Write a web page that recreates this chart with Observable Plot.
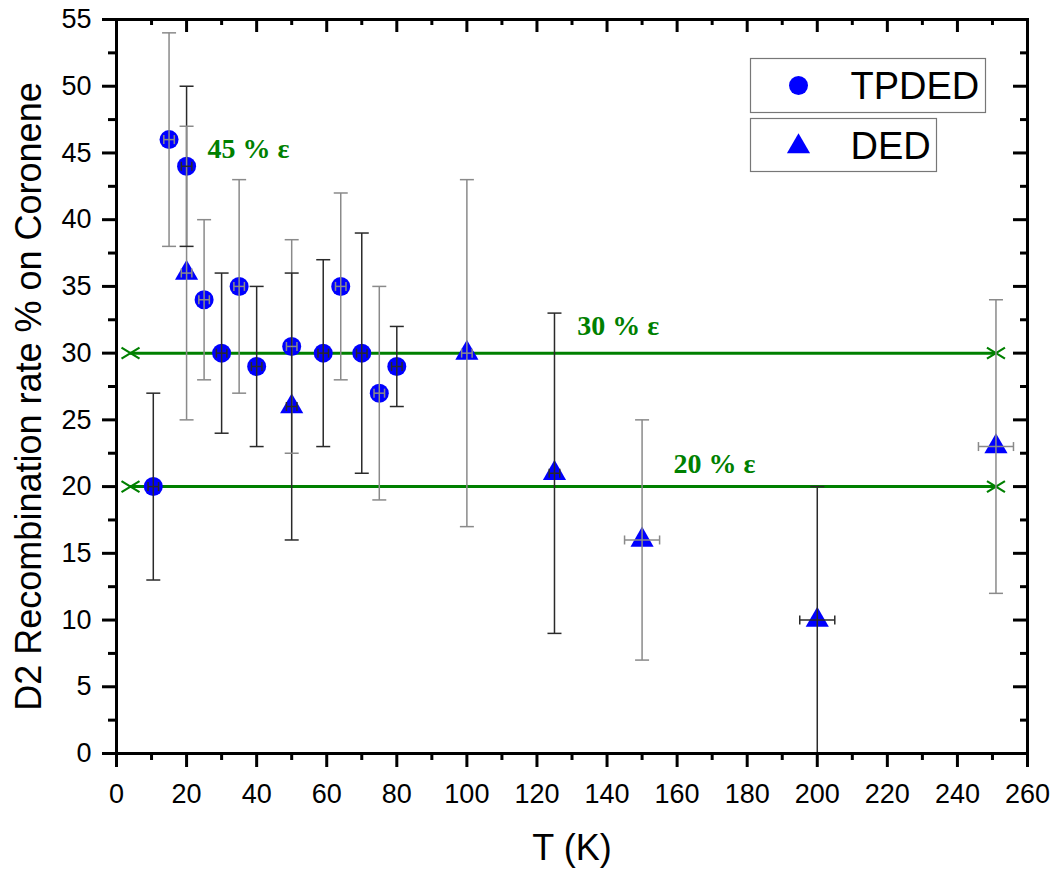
<!DOCTYPE html>
<html>
<head>
<meta charset="utf-8">
<script src="https://cdn.jsdelivr.net/npm/d3@7"></script>
<script src="https://cdn.jsdelivr.net/npm/@observablehq/plot@0.6"></script>
<style>
  body { margin: 0; background: #fff; }
  #chart svg { display: block; }
</style>
</head>
<body>
<div id="chart"></div>
<script>
// ---- Data ----
const tpdedT     = [10.5, 15, 20, 25, 30, 35, 40, 50, 59, 64, 70, 75, 80];
const tpdedRate  = [20, 46, 44, 34, 30, 35, 29, 30.5, 30, 35, 30, 27, 29];
const tpdedLow   = [13, 38, 38, 28, 24, 27, 23, 22.5, 23, 28, 21, 19, 26];
const tpdedHigh  = [27, 54, 50, 40, 36, 43, 35, 38.5, 37, 42, 39, 35, 32];
const tpdedTErr  = [1.5, 1.5, 1.5, 1.5, 1.5, 1.5, 1.5, 1.5, 1.5, 1.5, 1.5, 1.5, 1.5];

const dedT       = [20, 50, 100, 125, 150, 200, 251];
const dedRate    = [36, 26, 30, 21, 16, 10, 23];
const dedLow     = [25, 16, 17, 9, 7, 0, 12];
const dedHigh    = [47, 36, 43, 33, 25, 20, 34];
const dedTErr    = [1.5, 1.5, 1.5, 1.5, 5, 5, 5];

const refLevels  = [30, 20];
const refStart   = 4;
const refEnd     = 251;
const refLabels     = ["45 % ε", "30 % ε", "20 % ε"];
const refLabelT     = [26, 131.5, 159];
const refLabelRate  = [45.3, 32, 21.7];

const xTicksMajor = [0, 20, 40, 60, 80, 100, 120, 140, 160, 180, 200, 220, 240, 260];
const xTicksMinor = [10, 30, 50, 70, 90, 110, 130, 150, 170, 190, 210, 230, 250];
const yTicksMajor = [0, 5, 10, 15, 20, 25, 30, 35, 40, 45, 50, 55];
const yTicksMinor = [2.5, 7.5, 12.5, 17.5, 22.5, 27.5, 32.5, 37.5, 42.5, 47.5, 52.5];

const seriesNames = ["TPDED", "DED"];
const xLabel = "T (K)";
const yLabel = "D2 Recombination rate % on Coronene";

// ---- Build tables ----
const tp = tpdedT.map((t, i) => ({t, rate: tpdedRate[i], lo: tpdedLow[i], hi: tpdedHigh[i], terr: tpdedTErr[i]}));
const de = dedT.map((t, i) => ({t, rate: dedRate[i], lo: dedLow[i], hi: dedHigh[i], terr: dedTErr[i]}));
const all = [...tp, ...de];
const labels = refLabels.map((s, i) => ({s, t: refLabelT[i], rate: refLabelRate[i]}));

// ---- Layout ----
const W = 1058, H = 870;
const mL = 116, mR = 31, mT = 19, mB = 117;
const plotW = W - mL - mR, plotH = H - mT - mB;

const BLUE = "#0000ff", GREEN = "#008000";
const barColor = (d, i) => (i % 2 ? "#8a8a8a" : "#2a2a2a");

// custom symbols
const capH = {draw(c) { c.moveTo(-7, 0); c.lineTo(7, 0); }};
const capV = {draw(c) { c.moveTo(0, -4.5); c.lineTo(0, 4.5); }};
const cross = {draw(c) { c.moveTo(-9, -5.5); c.lineTo(9, 5.5); c.moveTo(-9, 5.5); c.lineTo(9, -5.5); }};

const refEnds = refLevels.flatMap(v => [{t: refStart, rate: v}, {t: refEnd, rate: v}]);

const chart = Plot.plot({
  width: W,
  height: H,
  marginLeft: mL,
  marginRight: mR,
  marginTop: mT,
  marginBottom: mB,
  style: {fontFamily: "'Liberation Sans', Arial, sans-serif", background: "#fff", color: "black"},
  x: {domain: [0, 260]},
  y: {domain: [0, 55]},
  marks: [
    // reference lines
    Plot.ruleY(refLevels, {y: d => d, x1: () => refStart, x2: () => refEnd, stroke: GREEN, strokeWidth: 3}),
    Plot.dot(refEnds, {x: "t", y: "rate", symbol: cross, fill: "none", stroke: GREEN, strokeWidth: 2.2}),
    Plot.text(labels, {x: "t", y: "rate", text: "s", textAnchor: "start", lineAnchor: "middle",
      fill: GREEN, fontSize: 28, fontWeight: "bold", fontFamily: "'Liberation Serif', 'Times New Roman', serif"}),

    // markers
    Plot.dot(tp, {x: "t", y: "rate", r: 9.5, fill: BLUE, stroke: "none", symbol: "circle"}),
    Plot.dot(de, {x: "t", y: "rate", r: 8.6, fill: BLUE, stroke: "none", symbol: "triangle"}),

    // vertical error bars
    Plot.link(all, {x1: "t", x2: "t", y1: "lo", y2: "hi", stroke: barColor, strokeWidth: 1.5}),
    Plot.dot(all, {x: "t", y: "lo", symbol: capH, fill: "none", stroke: barColor, strokeWidth: 1.5}),
    Plot.dot(all, {x: "t", y: "hi", symbol: capH, fill: "none", stroke: barColor, strokeWidth: 1.5}),
    // horizontal error bars
    Plot.link(all, {x1: d => d.t - d.terr, x2: d => d.t + d.terr, y1: "rate", y2: "rate", stroke: barColor, strokeWidth: 1.5}),
    Plot.dot(all, {x: d => d.t - d.terr, y: "rate", symbol: capV, fill: "none", stroke: barColor, strokeWidth: 1.5}),
    Plot.dot(all, {x: d => d.t + d.terr, y: "rate", symbol: capV, fill: "none", stroke: barColor, strokeWidth: 1.5}),

    // frame
    Plot.frame({stroke: "black", strokeWidth: 3}),

    // bottom axis (outward)
    Plot.axisX(xTicksMajor, {anchor: "bottom", tickSize: 14, tickPadding: 16, strokeWidth: 3, fontSize: 27, label: null}),
    Plot.axisX(xTicksMinor, {anchor: "bottom", tickSize: 7, strokeWidth: 3, tickFormat: () => "", label: null}),
    // left axis (outward)
    Plot.axisY(yTicksMajor, {anchor: "left", tickSize: 14, tickPadding: 11, strokeWidth: 3, fontSize: 27, label: null}),
    Plot.axisY(yTicksMinor, {anchor: "left", tickSize: 8, strokeWidth: 3, tickFormat: () => "", label: null}),
    // top ticks (inward)
    Plot.tickX(xTicksMajor, {x: d => d, insetBottom: plotH - 13, stroke: "black", strokeWidth: 3}),
    Plot.tickX(xTicksMinor, {x: d => d, insetBottom: plotH - 6, stroke: "black", strokeWidth: 3}),
    // right ticks (inward)
    Plot.tickY(yTicksMajor, {y: d => d, insetLeft: plotW - 14, stroke: "black", strokeWidth: 3}),
    Plot.tickY(yTicksMinor, {y: d => d, insetLeft: plotW - 7, stroke: "black", strokeWidth: 3}),

    // axis titles
    Plot.text([xLabel], {frameAnchor: "bottom", dy: 95, textAnchor: "middle", lineAnchor: "middle", fontSize: 36, fill: "black"}),
    Plot.text([yLabel], {frameAnchor: "left", dx: -87, dy: 10, rotate: -90, textAnchor: "middle", lineAnchor: "middle", fontSize: 36, fill: "black"}),

    // legend boxes
    Plot.frame({stroke: "#777", strokeWidth: 1.2, insetLeft: 750 - mL, insetRight: W - mR - 985, insetTop: 58 - mT, insetBottom: H - mB - 112}),
    Plot.frame({stroke: "#777", strokeWidth: 1.2, insetLeft: 750 - mL, insetRight: W - mR - 936, insetTop: 118 - mT, insetBottom: H - mB - 171}),
    Plot.dot([seriesNames[0]], {frameAnchor: "top-left", dx: 798 - mL, dy: 85 - mT, r: 9.5, fill: BLUE, stroke: "none", symbol: "circle"}),
    Plot.dot([seriesNames[1]], {frameAnchor: "top-left", dx: 798 - mL, dy: 146 - mT, r: 8.6, fill: BLUE, stroke: "none", symbol: "triangle"}),
    Plot.text([seriesNames[0]], {frameAnchor: "top-left", dx: 850 - mL, dy: 86 - mT, textAnchor: "start", lineAnchor: "middle", fontSize: 38, fill: "black"}),
    Plot.text([seriesNames[1]], {frameAnchor: "top-left", dx: 850 - mL, dy: 146 - mT, textAnchor: "start", lineAnchor: "middle", fontSize: 38, fill: "black"})
  ]
});

document.getElementById("chart").appendChild(chart);
</script>
</body>
</html>
